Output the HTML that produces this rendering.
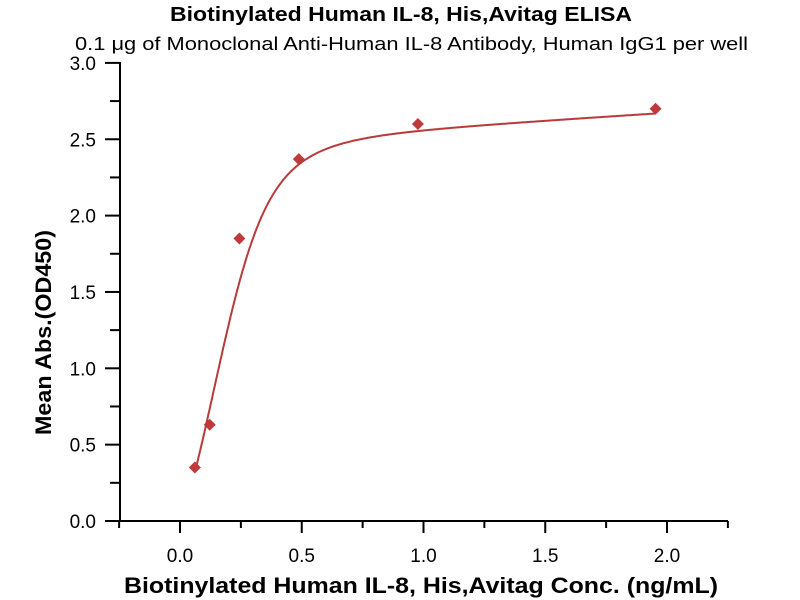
<!DOCTYPE html>
<html><head><style>
body{margin:0;background:#fff}
svg{display:block;font-family:"Liberation Sans",sans-serif}
</style></head><body>
<svg id="s" width="800" height="600" xmlns="http://www.w3.org/2000/svg">
<text x="170" y="21" font-size="20" font-weight="bold" textLength="462" lengthAdjust="spacingAndGlyphs">Biotinylated Human IL-8, His,Avitag ELISA</text>
<text x="75" y="50" font-size="18" textLength="673" lengthAdjust="spacingAndGlyphs">0.1 μg of Monoclonal Anti-Human IL-8 Antibody, Human IgG1 per well</text>
<g stroke="#000" stroke-width="2" fill="none">
<line x1="120" y1="62" x2="120" y2="522"/>
<line x1="119" y1="521" x2="728" y2="521"/>
</g>
<g id="ticks" stroke="#000" stroke-width="2"></g>
<g font-size="19" text-anchor="end" id="yl"></g>
<g font-size="19" text-anchor="middle" id="xl"></g>
<text x="124" y="593" font-size="22" font-weight="bold" textLength="594" lengthAdjust="spacingAndGlyphs">Biotinylated Human IL-8, His,Avitag Conc. (ng/mL)</text>
<text transform="translate(51,435) rotate(-90)" font-size="22" font-weight="bold" textLength="205" lengthAdjust="spacingAndGlyphs">Mean Abs.(OD450)</text>
<path id="c" fill="none" stroke="#b83a3a" stroke-width="2"/>
<g id="pts" fill="#c0393b"></g>
</svg>
<script>
var X=v=>180+v*243.5,Y=v=>521-v*152.7,ns="http://www.w3.org/2000/svg";
function el(p,t,a,txt){var e=document.createElementNS(ns,t);for(var k in a)e.setAttribute(k,a[k]);if(txt!=null)e.textContent=txt;document.getElementById(p).appendChild(e);}
for(var i=0;i<=12;i++){var v=i*0.25,y=Y(v);el("ticks","line",{x1:120,x2:i%2?110:105,y1:y,y2:y});if(i%2==0)el("yl","text",{x:96,y:y+7},(v).toFixed(1));}
for(var i=-1;i<=9;i++){var v=i*0.25,x=X(v);el("ticks","line",{x1:x,x2:x,y1:521,y2:i%2?528:533});if(i>=0&&i%2==0)el("xl","text",{x:x,y:562},(v).toFixed(1));}
var T=[[0.062,0.35,4],[0.119,0.63,2],[0.172,1.05,1],[0.246,1.62,1],[0.275,1.79,1],[0.34,2.03,1],[0.48,2.25,1],[0.686,2.45,1],[0.986,2.57,2],[1.23,2.61,1],[1.6,2.65,1],[1.95,2.69,3]];
var best=1e9,bp=null;
for(var m=0;m<=0.12;m+=0.02)for(var D=2.4;D<=2.9;D+=0.025)for(var c=0.05;c<=0.5;c+=0.01)for(var b=1;b<=6;b+=0.25)for(var g=0.2;g<=3;g+=0.15){
var e=0;for(var k=0;k<T.length;k++){var v=D/Math.pow(1+Math.pow(c/T[k][0],b),g)+m*T[k][0]-T[k][1];e+=T[k][2]*v*v;if(e>best)break;}
if(e<best){best=e;bp=[D,c,b,g,m];}}
var f=x=>bp[0]/Math.pow(1+Math.pow(bp[1]/x,bp[2]),bp[3])+bp[4]*x;
var d="";for(var x=0.061;x<=1.955;x+=0.003){d+=(d?"L":"M")+X(x).toFixed(1)+","+Y(f(x)).toFixed(1);}
document.getElementById("c").setAttribute("d",d);
[[0.061,0.35],[0.122,0.63],[0.244,1.85],[0.488,2.37],[0.977,2.6],[1.953,2.7]].forEach(p=>{var x=X(p[0]),y=Y(p[1]);el("pts","polygon",{points:(x)+","+(y-6)+" "+(x+6)+","+y+" "+x+","+(y+6)+" "+(x-6)+","+y});});
</script>
</body></html>
